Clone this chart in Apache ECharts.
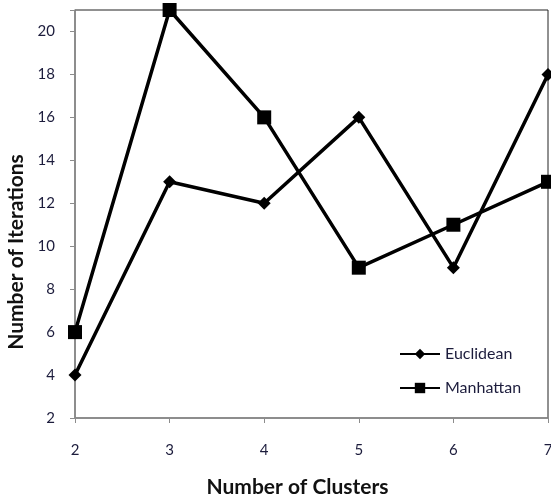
<!DOCTYPE html>
<html><head><meta charset="utf-8">
<script src="https://cdn.jsdelivr.net/npm/echarts@6/dist/echarts.min.js"></script>
<style>html,body{margin:0;padding:0;background:#fff}#c{width:551px;height:499px}</style>
</head><body><div id="c"></div>
<script>
const clusters = [2, 3, 4, 5, 6, 7];
const euclidean = [4, 13, 12, 16, 9, 18];
const manhattan = [6, 21, 16, 9, 11, 13];
const yTicks = [2, 4, 6, 8, 10, 12, 14, 16, 18, 20];

const chart = echarts.init(document.getElementById('c'));
const txt = '#1c1c3c';
const font = 'Lato, "Open Sans", sans-serif';
chart.setOption({
  animation: false,
  backgroundColor: '#fff',
  grid: {left: 75, right: 3, top: 10, bottom: 81, show: true, borderColor: '#222', borderWidth: 1,
         outerBoundsMode: 'none', containLabel: false},
  legend: {
    orient: 'vertical', left: 394, top: 341, itemGap: 18, itemWidth: 40, itemHeight: 13,
    textStyle: {color: txt, fontFamily: font, fontSize: 16},
    data: ['Euclidean', 'Manhattan']
  },
  xAxis: {
    type: 'value', min: 2, max: 7, interval: 1,
    name: 'Number of Clusters', nameLocation: 'middle', nameGap: 59,
    nameTextStyle: {fontWeight: 'bold', fontSize: 21, color: '#111', fontFamily: font,
                    padding: [0, 28, 0, 0]},
    axisLine: {lineStyle: {color: '#8c8c8c', width: 1.5}},
    axisTick: {show: true, length: 5, lineStyle: {color: '#8c8c8c'}},
    axisLabel: {color: txt, fontSize: 15, fontFamily: font, margin: 25},
    splitLine: {show: false}
  },
  yAxis: {
    type: 'value', min: 2, max: 21, interval: 2,
    name: 'Number of Iterations', nameLocation: 'middle', nameGap: 47,
    nameTextStyle: {fontWeight: 'bold', fontSize: 21, color: '#111', fontFamily: font,
                    padding: [0, 76, 0, 0]},
    axisLine: {show: true, lineStyle: {color: '#8c8c8c', width: 1.5}},
    axisTick: {show: true, length: 5, lineStyle: {color: '#8c8c8c'}},
    axisLabel: {color: txt, fontSize: 15, fontFamily: font, margin: 20,
      formatter: v => yTicks.includes(v) ? String(v) : ''},
    splitLine: {show: false}
  },
  series: [
    {name: 'Euclidean', type: 'line', data: clusters.map((c, i) => [c, euclidean[i]]),
     symbol: 'diamond', symbolSize: 13, lineStyle: {color: '#000', width: 3.5},
     itemStyle: {color: '#000'}},
    {name: 'Manhattan', type: 'line', data: clusters.map((c, i) => [c, manhattan[i]]),
     symbol: 'rect', symbolSize: 14, lineStyle: {color: '#000', width: 3.5},
     itemStyle: {color: '#000'}}
  ]
});
</script></body></html>
